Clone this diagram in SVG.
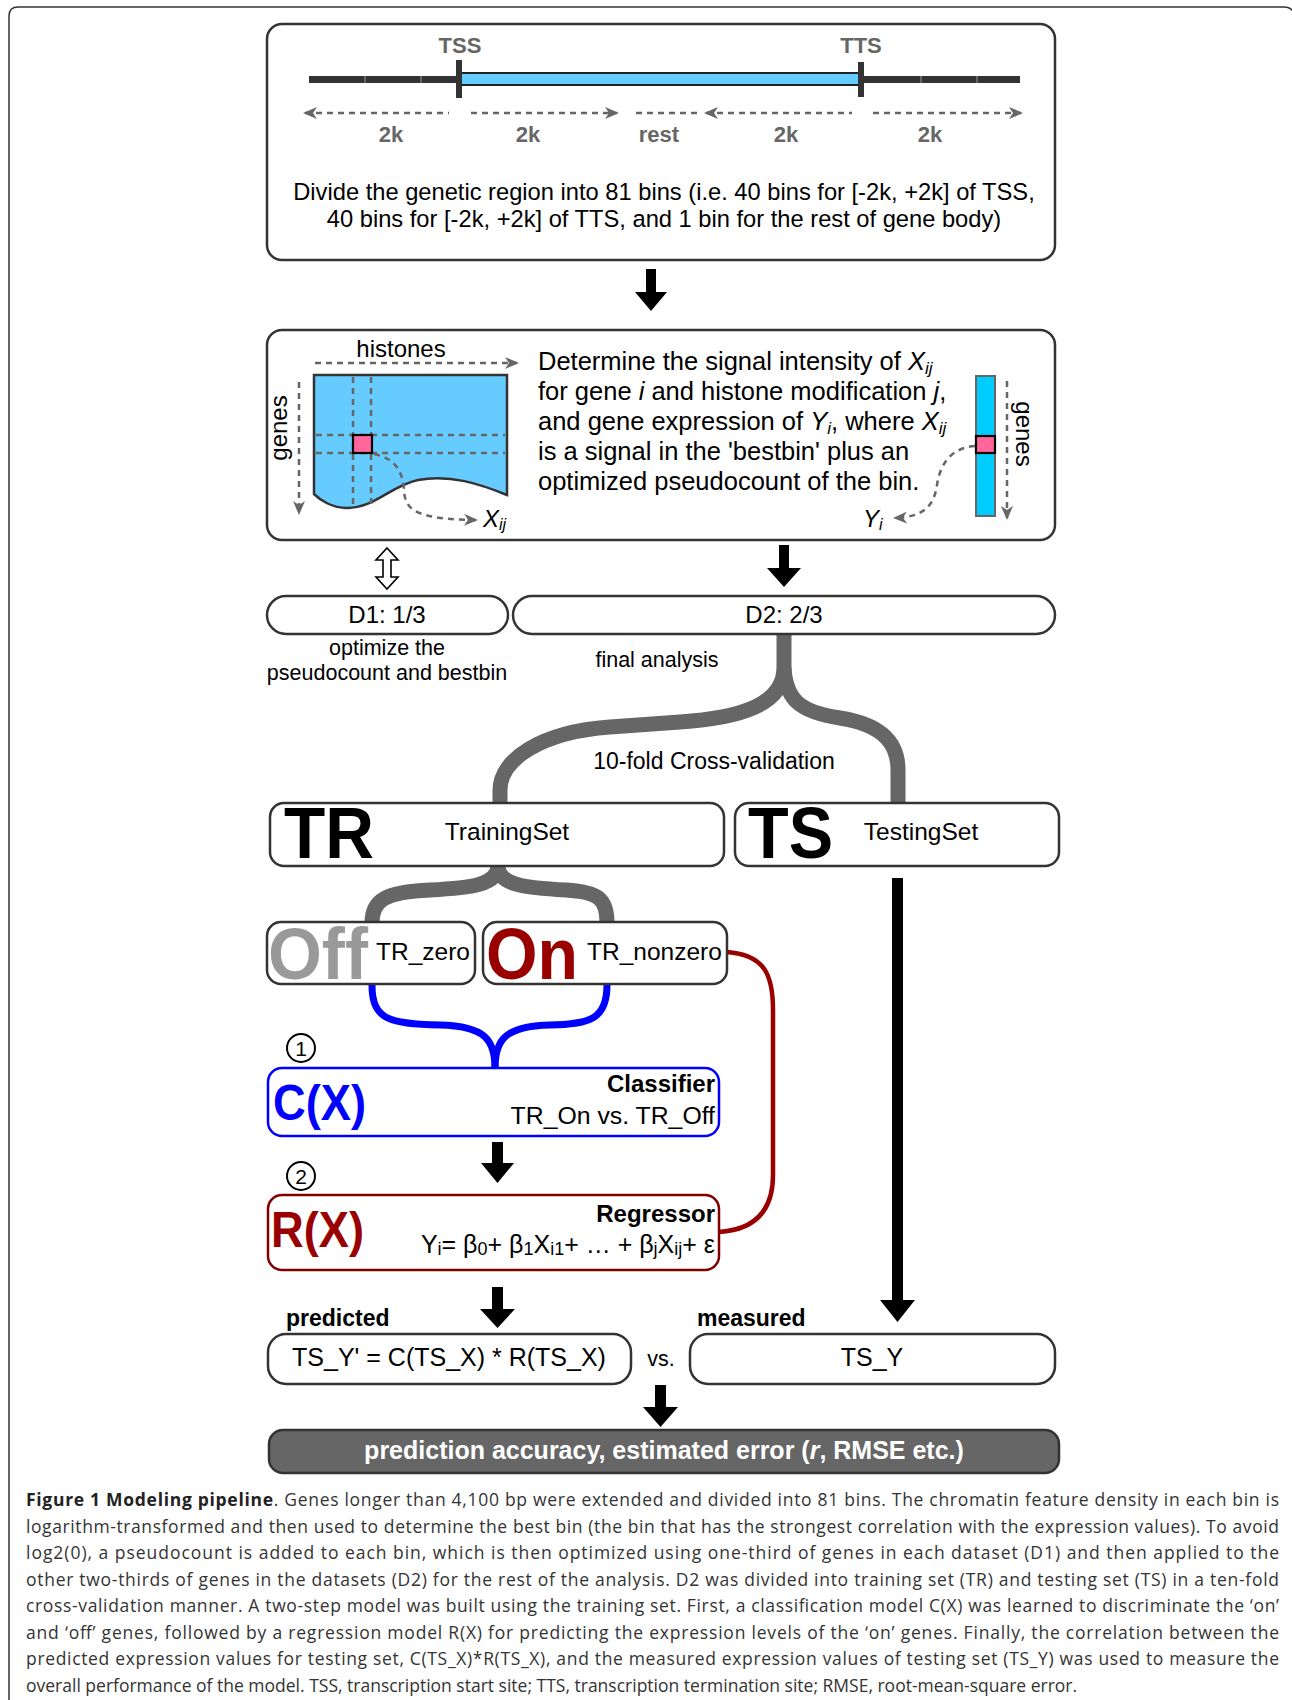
<svg xmlns="http://www.w3.org/2000/svg" width="1292" height="1700" viewBox="0 0 1292 1700" style="font-family:'Liberation Sans',Arial,Helvetica,sans-serif;font-size:24px">
<defs>
<style>
text{fill:#000}
.c{text-anchor:middle}
.r{text-anchor:end}
.b{font-weight:bold}
.i{font-style:italic}
.box{fill:#fff;stroke:#333;stroke-width:2.5}
.gl{font-size:22px;font-weight:bold;fill:#666;text-anchor:middle}
.dash{fill:none;stroke:#666;stroke-width:2.5;stroke-dasharray:6 5}
.blk{fill:#000}
.gbr{fill:none;stroke:#666;stroke-width:15}
.cap{font-family:"Open Sans","Liberation Sans",sans-serif;font-size:17.5px;fill:#333}
</style>
<marker id="ga" viewBox="0 0 14 12" refX="12" refY="6" markerWidth="14" markerHeight="12" markerUnits="userSpaceOnUse" orient="auto-start-reverse"><path d="M0,0 L14,6 L0,12 L4,6 z" fill="#666"/></marker>
</defs>

<rect width="1292" height="1700" fill="#fff"/>
<path id="frame" d="M9,1700 V16 Q9,7 18,7 H1284 Q1292,7 1294,14" fill="none" stroke="#333" stroke-width="1.5"/>

<g id="box-gene-region">
<rect class="box" x="267" y="24" width="788" height="236" rx="15"/>
<line x1="309" y1="79.5" x2="1020" y2="79.5" stroke="#333" stroke-width="7"/>
<g stroke="#888" stroke-width="1.2"><line x1="365" y1="76" x2="365" y2="83"/><line x1="421" y1="76" x2="421" y2="83"/><line x1="921" y1="76" x2="921" y2="83"/><line x1="977" y1="76" x2="977" y2="83"/></g>
<rect x="460" y="73" width="401" height="12" fill="#66ccff" stroke="#222" stroke-width="2"/>
<rect x="456" y="60" width="6" height="38" fill="#333"/>
<rect x="858" y="62" width="6" height="35" fill="#333"/>
<text class="gl" x="460" y="53">TSS</text>
<text class="gl" x="861" y="53">TTS</text>
<line class="dash" x1="305" y1="113" x2="449" y2="113" marker-start="url(#ga)"/>
<line class="dash" x1="471" y1="113" x2="617" y2="113" marker-end="url(#ga)"/>
<line class="dash" x1="636" y1="113" x2="700" y2="113"/>
<line class="dash" x1="706" y1="113" x2="852" y2="113" marker-start="url(#ga)"/>
<line class="dash" x1="873" y1="113" x2="1021" y2="113" marker-end="url(#ga)"/>
<text class="gl" x="391" y="142">2k</text>
<text class="gl" x="528" y="142">2k</text>
<text class="gl" x="659" y="142">rest</text>
<text class="gl" x="786" y="142">2k</text>
<text class="gl" x="930" y="142">2k</text>
<text class="c" x="664" y="200" font-size="23.7">Divide the genetic region into 81 bins (i.e. 40 bins for [-2k, +2k] of TSS,</text>
<text class="c" x="664" y="227" font-size="23.7">40 bins for [-2k, +2k] of TTS, and 1 bin for the rest of gene body)</text>
</g>

<g id="box-signal">
<rect class="box" x="267" y="330" width="788" height="210" rx="15"/>
<text class="c" x="401" y="357">histones</text>
<line class="dash" x1="315" y1="363" x2="517" y2="363" marker-end="url(#ga)"/>
<text class="c" transform="translate(287,428) rotate(-90)">genes</text>
<line class="dash" x1="299" y1="382" x2="299" y2="513" marker-end="url(#ga)"/>
<path d="M314,375 H507 V495 C480,484 450,474 418,480 C390,486 375,508 347,508 C332,508 320,500 314,494 Z" fill="#66ccff" stroke="#333" stroke-width="2.5"/>
<g class="dash" stroke-dasharray="5 6"><line x1="353" y1="377" x2="353" y2="505"/><line x1="371" y1="377" x2="371" y2="505"/><line x1="316" y1="435" x2="505" y2="435"/><line x1="316" y1="453" x2="505" y2="453"/></g>
<rect x="353" y="435" width="19" height="18" fill="#ff6699" stroke="#000" stroke-width="2.2"/>
<path class="dash" d="M374,454 C395,458 403,472 404,490 C405,510 415,519 476,520" marker-end="url(#ga)"/>
<text x="483" y="527"><tspan class="i">X</tspan><tspan class="i" font-size="16" dy="3">ij</tspan></text>
<g font-size="25.5">
<text x="538" y="370">Determine the signal intensity of <tspan class="i">X</tspan><tspan class="i" font-size="17" dy="4">ij</tspan></text>
<text x="538" y="400">for gene <tspan class="i">i</tspan> and histone modification <tspan class="i">j</tspan>,</text>
<text x="538" y="430">and gene expression of <tspan class="i">Y</tspan><tspan class="i" font-size="17" dy="4">i</tspan><tspan dy="-4">, where </tspan><tspan class="i">X</tspan><tspan class="i" font-size="17" dy="4">ij</tspan></text>
<text x="538" y="460">is a signal in the 'bestbin' plus an</text>
<text x="538" y="490">optimized pseudocount of the bin.</text>
</g>
<rect x="976" y="376" width="19" height="140" fill="#00ccff" stroke="#666" stroke-width="2"/>
<rect x="976" y="436" width="19" height="17" fill="#ff6699" stroke="#000" stroke-width="2.2"/>
<line class="dash" x1="1007" y1="381" x2="1007" y2="518" marker-end="url(#ga)"/>
<text class="c" transform="translate(1016,434) rotate(90)">genes</text>
<path class="dash" d="M975,446 C950,448 940,465 937,485 C934,505 925,517 895,518" marker-end="url(#ga)"/>
<text x="863" y="527"><tspan class="i">Y</tspan><tspan class="i" font-size="16" dy="3">i</tspan></text>
</g>

<g id="connectors">
<path class="blk" d="M646,269 H656 V292 H667 L651,311 L635,292 H646 Z"/>
<path class="blk" d="M779,545 H789 V568 H801 L784,587 L767,568 H779 Z"/>
<path d="M387,548 L398,560 H391 V577 H398 L387,589 L376,577 H383 V560 H376 Z" fill="#fff" stroke="#000" stroke-width="1.6"/>
<path class="gbr" d="M784,634 L784,670 C782,705 740,718 680,722 L610,727 C540,732 500,760 500,790 L500,804"/>
<path class="gbr" d="M784,668 C786,700 800,712 840,718 C885,725 898,745 898,770 L898,804"/>
<path class="gbr" d="M498,866 C498,885 470,888 430,890 C385,892 372,900 372,923"/>
<path class="gbr" d="M498,866 C498,885 526,888 566,890 C600,892 607,900 607,923"/>
<path d="M372,985 C372,1020 390,1024 440,1025 C485,1026 495,1040 495,1068" fill="none" stroke="#0000ff" stroke-width="7"/>
<path d="M607,985 C607,1020 589,1024 550,1025 C505,1026 495,1040 495,1068" fill="none" stroke="#0000ff" stroke-width="7"/>
<path d="M727,952 C765,955 773,975 773,1010 L773,1175 C773,1215 750,1230 719,1232" fill="none" stroke="#990000" stroke-width="4.5"/>
<path class="blk" d="M492,1142 H503 V1163 H514 L497.5,1183 L481,1163 H492 Z"/>
<path class="blk" d="M892,878 H903 V1300 H915 L897.5,1322 L880,1300 H892 Z"/>
<path class="blk" d="M492,1287 H503 V1309 H515 L497.5,1328 L480,1309 H492 Z"/>
<path class="blk" d="M655,1385 H666 V1407 H678 L660.5,1427 L643,1407 H655 Z"/>
</g>

<g id="node-d1">
<rect class="box" x="267" y="596" width="241" height="38" rx="19"/>
<text class="c" x="387" y="623">D1: 1/3</text>
<text class="c" x="387" y="655" font-size="21.5">optimize the</text>
<text class="c" x="387" y="680" font-size="21.5">pseudocount and bestbin</text>
</g>
<g id="node-d2">
<rect class="box" x="513" y="596" width="542" height="38" rx="19"/>
<text class="c" x="784" y="623">D2: 2/3</text>
<text class="c" x="657" y="667" font-size="21.5">final analysis</text>
</g>
<text class="c" x="714" y="769" font-size="23">10-fold Cross-validation</text>

<g id="node-tr">
<rect class="box" x="270" y="803" width="454" height="63" rx="14"/>
<text class="b" x="284" y="858" font-size="73" textLength="90" lengthAdjust="spacingAndGlyphs">TR</text>
<text class="c" x="507" y="840" font-size="24.5">TrainingSet</text>
</g>
<g id="node-ts">
<rect class="box" x="735" y="803" width="324" height="63" rx="14"/>
<text class="b" x="748" y="858" font-size="73" textLength="85" lengthAdjust="spacingAndGlyphs">TS</text>
<text class="c" x="921" y="840" font-size="24.5">TestingSet</text>
</g>

<g id="node-off">
<rect class="box" x="267" y="922" width="208" height="62" rx="14"/>
<text class="b" x="268" y="979" font-size="72" style="fill:#999" textLength="100" lengthAdjust="spacingAndGlyphs">Off</text>
<text x="376" y="960" font-size="24.5">TR_zero</text>
</g>
<g id="node-on">
<rect class="box" x="483" y="922" width="244" height="62" rx="14"/>
<text class="b" x="486" y="979" font-size="72" style="fill:#990000" textLength="92" lengthAdjust="spacingAndGlyphs">On</text>
<text x="587" y="960" font-size="24.5">TR_nonzero</text>
</g>

<g id="node-classifier">
<circle cx="301" cy="1048" r="14" fill="#fff" stroke="#000" stroke-width="2"/>
<text class="c" x="301" y="1056" font-size="21">1</text>
<rect x="268" y="1068" width="451" height="68" rx="14" fill="#fff" stroke="#0000ff" stroke-width="2.5"/>
<text class="b" x="273" y="1120" font-size="50" style="fill:#0000ff" textLength="93" lengthAdjust="spacingAndGlyphs">C(X)</text>
<text class="b r" x="715" y="1092">Classifier</text>
<text class="r" x="715" y="1124" font-size="24.8">TR_On vs. TR_Off</text>
</g>

<g id="node-regressor">
<circle cx="301" cy="1176" r="14" fill="#fff" stroke="#000" stroke-width="2"/>
<text class="c" x="301" y="1184" font-size="21">2</text>
<rect x="268" y="1195" width="451" height="75" rx="14" fill="#fff" stroke="#800000" stroke-width="2.5"/>
<text class="b" x="271" y="1247" font-size="50" style="fill:#990000" textLength="93" lengthAdjust="spacingAndGlyphs">R(X)</text>
<text class="b r" x="715" y="1222">Regressor</text>
<text class="r" x="715" y="1253" font-size="25">Y<tspan font-size="18" dy="2">i</tspan><tspan dy="-2">= β</tspan><tspan font-size="18" dy="2">0</tspan><tspan dy="-2">+ β</tspan><tspan font-size="18" dy="2">1</tspan><tspan dy="-2">X</tspan><tspan font-size="18" dy="2">i1</tspan><tspan dy="-2">+ … + β</tspan><tspan font-size="18" dy="2">j</tspan><tspan dy="-2">X</tspan><tspan font-size="18" dy="2">ij</tspan><tspan dy="-2">+ ε</tspan></text>
</g>

<g id="node-predicted">
<text class="b" x="286" y="1326" font-size="23">predicted</text>
<rect class="box" x="268" y="1334" width="363" height="50" rx="18"/>
<text class="c" x="449" y="1366" font-size="25">TS_Y' = C(TS_X) * R(TS_X)</text>
</g>
<text class="c" x="661" y="1366" font-size="21.5">vs.</text>
<g id="node-measured">
<text class="b" x="697" y="1326" font-size="23">measured</text>
<rect class="box" x="690" y="1334" width="365" height="50" rx="18"/>
<text class="c" x="872" y="1366" font-size="25">TS_Y</text>
</g>

<g id="node-result">
<rect x="269" y="1430" width="790" height="43" rx="14" fill="#666" stroke="#333" stroke-width="2.5"/>
<text class="b c" x="664" y="1459" font-size="25" style="fill:#fff">prediction accuracy, estimated error (<tspan class="i">r</tspan>, RMSE etc.)</text>
</g>

<g id="caption">
<text class="cap" x="26" y="1506" textLength="1253" lengthAdjust="spacing"><tspan font-weight="bold" style="fill:#222">Figure 1 Modeling pipeline</tspan>. Genes longer than 4,100 bp were extended and divided into 81 bins. The chromatin feature density in each bin is</text>
<text class="cap" x="26" y="1532.5" textLength="1253" lengthAdjust="spacing">logarithm-transformed and then used to determine the best bin (the bin that has the strongest correlation with the expression values). To avoid</text>
<text class="cap" x="26" y="1559" textLength="1253" lengthAdjust="spacing">log2(0), a pseudocount is added to each bin, which is then optimized using one-third of genes in each dataset (D1) and then applied to the</text>
<text class="cap" x="26" y="1585.5" textLength="1253" lengthAdjust="spacing">other two-thirds of genes in the datasets (D2) for the rest of the analysis. D2 was divided into training set (TR) and testing set (TS) in a ten-fold</text>
<text class="cap" x="26" y="1612" textLength="1253" lengthAdjust="spacing">cross-validation manner. A two-step model was built using the training set. First, a classification model C(X) was learned to discriminate the ‘on’</text>
<text class="cap" x="26" y="1638.5" textLength="1253" lengthAdjust="spacing">and ‘off’ genes, followed by a regression model R(X) for predicting the expression levels of the ‘on’ genes. Finally, the correlation between the</text>
<text class="cap" x="26" y="1665" textLength="1253" lengthAdjust="spacing">predicted expression values for testing set, C(TS_X)*R(TS_X), and the measured expression values of testing set (TS_Y) was used to measure the</text>
<text class="cap" x="26" y="1691.5">overall performance of the model. TSS, transcription start site; TTS, transcription termination site; RMSE, root-mean-square error.</text>
</g>
</svg>
